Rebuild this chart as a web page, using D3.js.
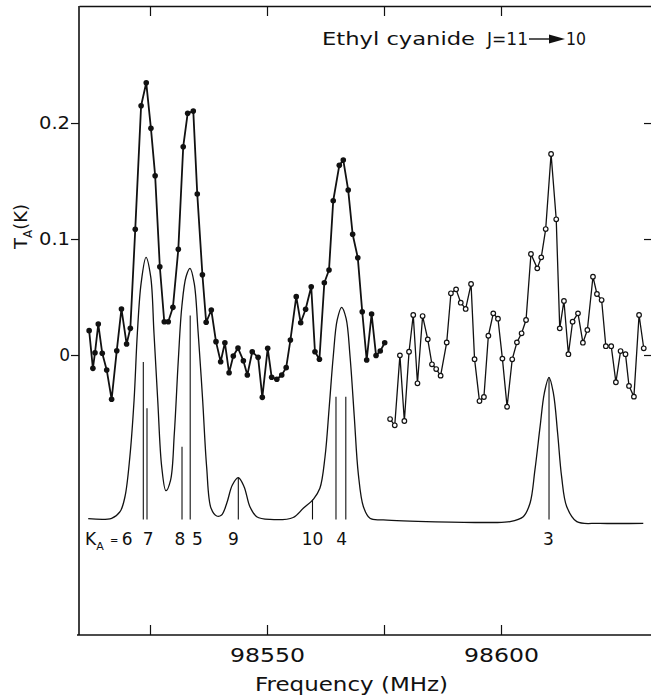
<!DOCTYPE html>
<html>
<head>
<meta charset="utf-8">
<script src="https://cdn.jsdelivr.net/npm/d3@7"></script>
<style>
  html, body { margin: 0; padding: 0; background: #fff; }
  svg { display: block; }
  text { font-family: "DejaVu Sans", "Liberation Sans", sans-serif; fill: #111; }
</style>
</head>
<body>
<svg id="chart" width="651" height="699"></svg>
<script>
// ---------- data ----------
// Observed spectrum, first part (filled dots)
const filledFreq = [98512.0, 98512.8, 98513.25, 98513.95, 98514.8, 98515.75, 98516.8, 98517.9, 98518.9, 98520.0,
  98520.8, 98521.85, 98523.1, 98524.2, 98525.2, 98526.1, 98527.1, 98528.05, 98528.9, 98529.9,
  98531.05, 98532.1, 98533.05, 98534.25, 98535.1, 98536.2, 98537.0, 98538.1, 98539.1, 98540.1,
  98541.0, 98541.9, 98542.8, 98543.8, 98544.95, 98545.8, 98546.85, 98548.1, 98549.0, 98550.15,
  98551.0, 98552.1, 98553.15, 98554.1, 98555.0, 98556.25, 98557.2, 98558.25, 98559.45, 98560.25,
  98561.2, 98562.25, 98563.25, 98564.15, 98565.45, 98566.3, 98567.35, 98568.3, 98569.4, 98570.35,
  98571.3, 98572.35, 98573.3, 98574.2, 98575.15];
const filledT = [0.021, -0.0115, 0.002, 0.0267, 0.0015, -0.0129, -0.0382, 0.0037, 0.0397, 0.0095,
  0.023, 0.1084, 0.2149, 0.2347, 0.1954, 0.1546, 0.0761, 0.0287, 0.0287, 0.0411,
  0.0911, 0.1796, 0.2084, 0.2103, 0.1388, 0.0692, 0.0282, 0.0388, 0.0115, -0.0058,
  0.0106, -0.0153, -0.0009, 0.006, -0.0049, -0.0172, 0.0028, -0.002, -0.0365, 0.0058,
  -0.0192, -0.0209, -0.0172, -0.0109, 0.0129, 0.0503, 0.0278, 0.0394, 0.0589, 0.0028,
  -0.0037, 0.0623, 0.0733, 0.133, 0.1635, 0.1681, 0.1422, 0.1041, 0.0839, 0.0373,
  -0.0043, 0.0353, -0.0004, 0.0034, 0.0106];

// Observed spectrum, second part (open circles)
const openFreq = [98576.3, 98577.3, 98578.4, 98579.35, 98580.35, 98581.25, 98582.15, 98583.25, 98584.35, 98585.25,
  98586.15, 98587.1, 98588.4, 98589.3, 98590.4, 98591.4, 98592.45, 98593.6, 98594.35, 98595.4,
  98596.35, 98597.3, 98598.35, 98599.35, 98600.3, 98601.3, 98602.4, 98603.4, 98604.4, 98605.35,
  98606.4, 98607.75, 98608.6, 98609.55, 98610.7, 98611.8, 98612.55, 98613.45, 98614.4, 98615.3,
  98616.45, 98617.5, 98618.45, 98619.65, 98620.5, 98621.5, 98622.4, 98623.55, 98624.55, 98625.55,
  98626.6, 98627.35, 98628.4, 98629.5, 98630.5];
const openT = [-0.0552, -0.0606, -0.0003, -0.0569, 0.0028, 0.0345, -0.0244, 0.0336, 0.0135, -0.008,
  -0.0121, -0.0178, 0.0108, 0.0532, 0.0566, 0.0451, 0.0397, 0.0612, -0.0036, -0.0397,
  -0.0362, 0.0166, 0.0359, 0.0313, -0.0031, -0.0446, -0.0037, 0.0109, 0.0187, 0.0302,
  0.0871, 0.0747, 0.0842, 0.1086, 0.1733, 0.117, 0.023, 0.0466, 0.0007, 0.0287,
  0.0359, 0.0106, 0.0216, 0.0675, 0.0526, 0.0474, 0.0076, 0.0076, -0.0235, 0.0034,
  0.0007, -0.0267, -0.0359, 0.0345, 0.0058];

// Synthetic (model) spectrum, drawn offset below the data
const modelFreq = [98511.8, 98516.8, 98518.6, 98519.65, 98520.7, 98521.6, 98522.3, 98523.1, 98524.15, 98525.15,
  98525.85, 98526.65, 98527.5, 98528.4, 98529.4, 98530.2, 98531.05, 98531.8, 98532.7, 98533.55,
  98534.45, 98535.3, 98536.25, 98537.1, 98538.05, 98539.25, 98540.3, 98541.4, 98542.6, 98543.85,
  98545.1, 98546.35, 98547.8, 98550.65, 98555.6, 98557.75, 98559.9, 98561.3, 98562.4, 98563.3,
  98564.15, 98565.0, 98565.95, 98566.9, 98567.75, 98568.65, 98569.5, 98570.6, 98572.0, 98574.85,
  98597.65, 98601.9, 98604.75, 98606.2, 98607.25, 98608.35, 98609.25, 98610.25, 98611.2, 98612.1,
  98612.95, 98614.05, 98616.2, 98621.15, 98630.4];
const modelT = [-0.141, -0.1408, -0.1351, -0.1222, -0.0877, -0.0388, 0.019, 0.0618, 0.0842, 0.0675,
  0.019, -0.0388, -0.0963, -0.117, -0.1078, -0.0675, -0.0043, 0.0416, 0.0675, 0.0747,
  0.0618, 0.0187, -0.0388, -0.0963, -0.1322, -0.1388, -0.1379, -0.1278, -0.1121, -0.1058,
  -0.1135, -0.1308, -0.1394, -0.1418, -0.1401, -0.1322, -0.1244, -0.1149, -0.0877, -0.0446,
  -0.0015, 0.0302, 0.0411, 0.0316, -0.0015, -0.0532, -0.102, -0.1308, -0.1408, -0.1422,
  -0.1444, -0.1437, -0.1394, -0.1278, -0.0991, -0.0618, -0.033, -0.0192, -0.033, -0.0675,
  -0.1049, -0.1308, -0.1437, -0.1451, -0.1451];
const modelBase = -0.1418;

// Component lines (K_A components) : frequency and top of the stick
const stickFreq = [98523.57, 98524.36, 98531.84, 98533.59, 98543.87, 98559.72, 98564.74, 98566.84, 98610.26];
const stickTop  = [-0.006, -0.0459, -0.0791, 0.0341, -0.1056, -0.1246, -0.0359, -0.0359, -0.0192];

// K_A labels under the sticks
const kaLabels = ["6", "7", "8", "5", "9", "10", "4", "3"];
const kaLabelFreq = [98520.1, 98524.6, 98531.41, 98535.15, 98542.84, 98559.72, 98565.96, 98610.15];

// Axis ticks
const xTicks = [98525, 98550, 98575, 98600];
const xTickLabels = ["", "98550", "", "98600"];
const yTicks = [0, 0.1, 0.2];
const yTickLabels = ["0", "0.1", "0.2"];

// ---------- drawing ----------
const svg = d3.select("#chart");
const W = 651, H = 699;
const x = d3.scaleLinear().domain([98509.83, 98632.05]).range([79, 651]);
const y = d3.scaleLinear().domain([-0.2414, 0.3009]).range([635, 6]);

const ink = "#111";

// Axes
const axB = svg.append("g").attr("transform", `translate(0,${y.range()[0]})`)
  .call(d3.axisBottom(x).tickValues(xTicks).tickSize(-10).tickSizeOuter(0)
    .tickFormat((d, i) => xTickLabels[i]).tickPadding(8));
axB.select(".domain").attr("stroke", ink).attr("stroke-width", 1.6).attr("d", `M${77},0H${W}`);
axB.selectAll(".tick line").attr("stroke", ink).attr("stroke-width", 1.2);
axB.selectAll(".tick text").attr("font-size", 20).attr("dy", "0.95em").attr("fill", ink)
  .each(function(d, i) { if (xTickLabels[i]) d3.select(this).attr("textLength", 75).attr("lengthAdjust", "spacingAndGlyphs"); });

const axT = svg.append("g").attr("transform", `translate(0,${y.range()[1]})`)
  .call(d3.axisBottom(x).tickValues(xTicks).tickSize(10).tickSizeOuter(0).tickFormat(""));
axT.select(".domain").attr("stroke", ink).attr("stroke-width", 1.6);
axT.selectAll(".tick line").attr("stroke", ink).attr("stroke-width", 1.2);

const axL = svg.append("g").attr("transform", `translate(${x.range()[0]},0)`)
  .call(d3.axisLeft(y).tickValues(yTicks).tickSize(8).tickSizeOuter(0)
    .tickFormat((d, i) => yTickLabels[i]).tickPadding(1));
axL.select(".domain").attr("stroke", ink).attr("stroke-width", 1.6).attr("d", `M0,${y.range()[1]}V${y.range()[0]}`);
axL.selectAll(".tick line").attr("stroke", ink).attr("stroke-width", 1.2);
axL.selectAll(".tick text").attr("font-size", 17).attr("fill", ink)
  .each(function(d, i) { if (yTickLabels[i].length > 1) d3.select(this).attr("textLength", 31).attr("lengthAdjust", "spacingAndGlyphs"); });

const axR = svg.append("g").attr("transform", `translate(${x.range()[1] - 7},0)`)
  .call(d3.axisRight(y).tickValues(yTicks).tickSize(7).tickSizeOuter(0).tickFormat(""));
axR.select(".domain").remove();
axR.selectAll(".tick line").attr("stroke", ink).attr("stroke-width", 1.2);

// Model spectrum
const modelPts = modelFreq.map((f, i) => [f, modelT[i]]);
svg.append("path").datum(modelPts)
  .attr("fill", "none").attr("stroke", ink).attr("stroke-width", 1.3)
  .attr("d", d3.line().x(d => x(d[0])).y(d => y(d[1])).curve(d3.curveCatmullRom.alpha(0.5)));

// Sticks
svg.append("g").selectAll("line").data(stickFreq).join("line")
  .attr("x1", d => x(d)).attr("x2", d => x(d))
  .attr("y1", (d, i) => y(stickTop[i])).attr("y2", y(modelBase))
  .attr("stroke", ink).attr("stroke-width", 1.1);

// Observed: filled series
const filledPts = filledFreq.map((f, i) => [f, filledT[i]]);
const lin = d3.line().x(d => x(d[0])).y(d => y(d[1]));
svg.append("path").datum(filledPts).attr("fill", "none").attr("stroke", ink)
  .attr("stroke-width", 1.8).attr("stroke-linejoin", "round").attr("d", lin);
svg.append("g").selectAll("circle").data(filledPts).join("circle")
  .attr("cx", d => x(d[0])).attr("cy", d => y(d[1])).attr("r", 2.8).attr("fill", ink);

// Observed: open series
const openPts = openFreq.map((f, i) => [f, openT[i]]);
svg.append("path").datum(openPts).attr("fill", "none").attr("stroke", ink)
  .attr("stroke-width", 1.3).attr("stroke-linejoin", "round").attr("d", lin);
svg.append("g").selectAll("circle").data(openPts).join("circle")
  .attr("cx", d => x(d[0])).attr("cy", d => y(d[1])).attr("r", 2.3)
  .attr("fill", "#fff").attr("stroke", ink).attr("stroke-width", 1.2);

// K_A labels
const labY = y(modelBase) + 26;
const ka = svg.append("text").attr("x", 85).attr("y", labY).attr("font-size", 17);
ka.append("tspan").text("K");
ka.append("tspan").attr("font-size", 11).attr("dy", 5).attr("dx", 0).text("A");
svg.append("text").attr("x", 110).attr("y", labY - 1).attr("font-size", 10).text("=");
svg.append("g").selectAll("text").data(kaLabels).join("text")
  .attr("x", (d, i) => x(kaLabelFreq[i])).attr("y", labY)
  .attr("text-anchor", "middle").attr("font-size", 17).text(d => d);

// Title
svg.append("text").attr("x", 322).attr("y", 45).attr("font-size", 18)
  .attr("textLength", 153).attr("lengthAdjust", "spacingAndGlyphs").text("Ethyl cyanide");
svg.append("text").attr("x", 487).attr("y", 45).attr("font-size", 18)
  .attr("textLength", 41).attr("lengthAdjust", "spacingAndGlyphs").text("J=11");
svg.append("line").attr("x1", 529).attr("x2", 552).attr("y1", 39).attr("y2", 39)
  .attr("stroke", ink).attr("stroke-width", 1.4);
svg.append("path").attr("d", "M549,34.5L565,39L549,43.5Z").attr("fill", ink);
svg.append("text").attr("x", 566).attr("y", 45).attr("font-size", 18)
  .attr("textLength", 20).attr("lengthAdjust", "spacingAndGlyphs").text("10");

// Axis titles
svg.append("text").attr("x", 255).attr("y", 691).attr("font-size", 19)
  .attr("textLength", 193).attr("lengthAdjust", "spacingAndGlyphs").text("Frequency (MHz)");
const yl = svg.append("text").attr("transform", "translate(27,249) rotate(-90)").attr("font-size", 18);
yl.append("tspan").text("T");
yl.append("tspan").attr("font-size", 12).attr("dy", 5).text("A");
yl.append("tspan").attr("dy", -5).text("(K)");
</script>
</body>
</html>
